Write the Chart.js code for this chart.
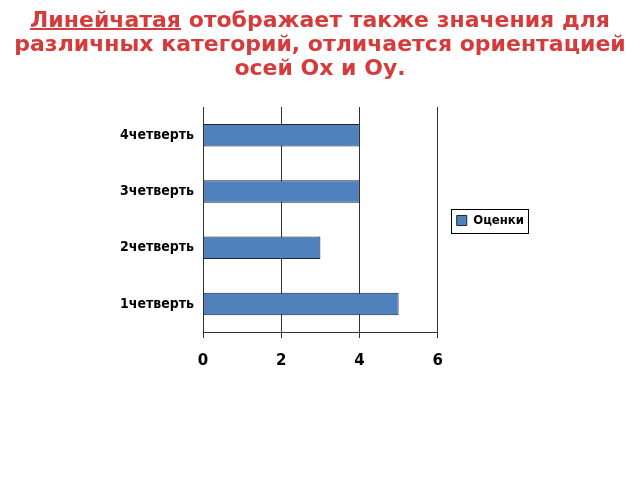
<!DOCTYPE html>
<html>
<head>
<meta charset="utf-8">
<script src="https://cdn.jsdelivr.net/npm/chart.js@4"></script>
<style>
  html, body { margin: 0; padding: 0; background: #fff; }
  #wrap { position: relative; width: 640px; height: 480px; }
  #title {
    position: absolute; left: 0; top: 8px; width: 640px;
    text-align: center; color: #d63b3b;
    font: bold 22px "DejaVu Sans", sans-serif; line-height: 24px;
  }
  #title u { text-decoration-thickness: 2px; }
  canvas { position: absolute; left: 0; top: 0; }
</style>
</head>
<body>
<div id="wrap">
  <canvas id="myBarChart" width="640" height="480"></canvas>
  <div id="title"><u>Линейчатая</u> отображает также значения для<br>различных категорий, отличается ориентацией<br>осей Ох и Оу.</div>
</div>
<script>
const categories = ['4четверть', '3четверть', '2четверть', '1четверть'];
const grades = [4, 4, 3, 5];
const seriesName = 'Оценки';
const xTicks = [0, 2, 4, 6];

// рамка вокруг элемента легенды
const legendFrame = {
    id: 'legendFrame',
    afterDraw(chart) {
        const box = chart.legend.legendHitBoxes[0];
        if (!box) return;
        const c = chart.ctx;
        const x0 = Math.round(box.left - 6) + 0.5;
        const y0 = Math.round(box.top + box.height / 2 - 12) + 0.5;
        const x1 = Math.round(box.left + box.width + 4) + 0.5;
        c.save();
        c.strokeStyle = '#000';
        c.lineWidth = 1;
        c.strokeRect(x0, y0, x1 - x0, 24);
        c.restore();
    }
};

document.addEventListener('DOMContentLoaded', function() {
    const ctx = document.getElementById('myBarChart').getContext('2d');

    const data = {
        labels: categories,
        datasets: [{
            label: seriesName,
            data: grades,
            backgroundColor: '#4f81bd',
            borderColor: '#1c2240',
            borderWidth: 1,
            borderSkipped: false,
            categoryPercentage: 0.8,
            barPercentage: 0.5
        }]
    };

    const options = {
        indexAxis: 'y',
        responsive: false,
        animation: false,
        layout: { padding: { top: 107, left: 119, right: 106, bottom: 96 } },
        plugins: {
            legend: {
                position: 'right',
                align: 'start',
                // пустой заголовок, чтобы опустить легенду к середине
                title: { display: true, text: ' ', font: { size: 10, lineHeight: 1.2 }, padding: { top: 76, bottom: 0 } },
                labels: {
                    color: '#000',
                    font: { family: 'DejaVu Sans Condensed', weight: 'bold', size: 13 },
                    boxWidth: 10,
                    boxHeight: 10,
                    padding: 19
                }
            },
            tooltip: { enabled: false }
        },
        scales: {
            x: {
                min: 0,
                max: 6,
                afterBuildTicks: function(scale) {
                    scale.ticks = xTicks.map(v => ({ value: v }));
                },
                grid: { color: '#333', lineWidth: 1, tickLength: 6, drawOnChartArea: true },
                border: { color: '#333' },
                ticks: {
                    color: '#000',
                    padding: 14,
                    font: { family: 'DejaVu Sans', weight: 'bold', size: 15 }
                }
            },
            y: {
                grid: { display: false },
                border: { color: '#333' },
                ticks: {
                    color: '#000',
                    padding: 1,
                    font: { family: 'DejaVu Sans Condensed', weight: 'bold', size: 14 }
                }
            }
        }
    };

    new Chart(ctx, {
        type: 'bar',
        data: data,
        options: options,
        plugins: [legendFrame]
    });
});
</script>
</body>
</html>
